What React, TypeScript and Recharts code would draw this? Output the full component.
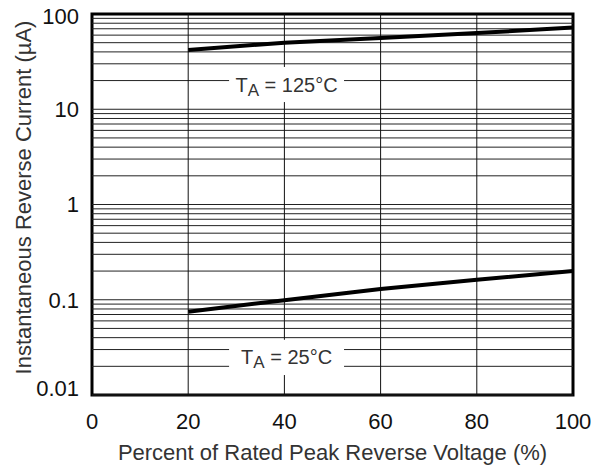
import React from "react";
import {
  ComposedChart,
  Line,
  XAxis,
  YAxis,
  ReferenceLine,
  ReferenceArea,
  Label,
} from "recharts";

// percent of rated peak reverse voltage
const voltagePct = [20, 40, 60, 80, 100];
// instantaneous reverse current (uA)
const current125C = [42, 50, 56, 63, 72];
const current25C = [0.075, 0.099, 0.13, 0.162, 0.2];

const xTicks = [0, 20, 40, 60, 80, 100];
const yTicks = [0.01, 0.1, 1, 10, 100];
const decades = [0.01, 0.1, 1, 10];
const minorSteps = [1, 2, 3, 4, 5, 6, 7, 8, 9];
const xGrid = [20, 40, 60, 80];

// white label boxes that cut through the grid
const boxes = [
  { temp: 125, x1: 28.5, x2: 52.4, y1: 11.9, y2: 27.8 },
  { temp: 25, x1: 28.5, x2: 52.4, y1: 0.0162, y2: 0.038 },
];

const data125 = voltagePct.map((v, i) => ({ x: v, y: current125C[i] }));
const data25 = voltagePct.map((v, i) => ({ x: v, y: current25C[i] }));

const hGrid: number[] = [];
decades.forEach((d) => minorSteps.forEach((m) => hGrid.push(+(d * m).toPrecision(3))));

// split grid lines so they stop at the label boxes
const hSegments: { x1: number; x2: number; y: number }[] = [];
hGrid.forEach((y) => {
  const box = boxes.find((b) => y > b.y1 && y < b.y2);
  if (box) {
    hSegments.push({ x1: 0, x2: box.x1, y });
    hSegments.push({ x1: box.x2, x2: 100, y });
  } else {
    hSegments.push({ x1: 0, x2: 100, y });
  }
});
const vSegments: { x: number; y1: number; y2: number }[] = [];
xGrid.forEach((x) => {
  const hits = boxes.filter((b) => x > b.x1 && x < b.x2).sort((a, b) => a.y1 - b.y1);
  let start = 0.01;
  hits.forEach((b) => {
    vSegments.push({ x, y1: start, y2: b.y1 });
    start = b.y2;
  });
  vSegments.push({ x, y1: start, y2: 100 });
});

const font = "'Liberation Sans', Arial, sans-serif";

const YTick = (props: any) => {
  const { x, y, payload } = props;
  // the bottom label sits a little above the axis corner
  const shift = payload.value === 0.01 ? -7 : payload.value === 100 ? 2 : 0;
  return (
    <text x={x} y={y + shift} dy="0.36em" textAnchor="end" fontFamily={font} fontSize={22} fill="#111">
      {String(payload.value)}
    </text>
  );
};

const XTick = (props: any) => {
  const { x, y, payload } = props;
  return (
    <text x={x} y={y} dy="0.72em" textAnchor="middle" fontFamily={font} fontSize={22} fill="#111">
      {String(payload.value)}
    </text>
  );
};

const YTitle = (props: any) => {
  const { viewBox } = props;
  const cx = 23;
  const cy = viewBox.y + viewBox.height / 2 - 7;
  return (
    <text
      x={cx}
      y={cy}
      transform={`rotate(-90 ${cx} ${cy})`}
      textAnchor="middle"
      dy="0.36em"
      fontFamily={font}
      fontSize={22}
      fill="#333"
    >
      Instantaneous Reverse Current (µA)
    </text>
  );
};

const XTitle = (props: any) => {
  const { viewBox } = props;
  const cx = viewBox.x + viewBox.width / 2;
  return (
    <text x={cx} y={460} textAnchor="middle" fontFamily={font} fontSize={22} fill="#333">
      Percent of Rated Peak Reverse Voltage (%)
    </text>
  );
};

const TempLabel = (props: any) => {
  const { viewBox, temp } = props;
  const cx = viewBox.x + viewBox.width / 2;
  const cy = viewBox.y + viewBox.height / 2 + 7;
  return (
    <text x={cx} y={cy} textAnchor="middle" fontFamily={font} fontSize={20} fill="#333">
      T<tspan fontSize={17} dy={4}>A</tspan>
      <tspan dy={-4}>{` = ${temp}°C`}</tspan>
    </text>
  );
};

export default function App() {
  return (
    <div
      style={{
        position: "absolute",
        top: 0,
        left: 0,
        width: 599,
        height: 468,
        overflow: "hidden",
        background: "#fff",
      }}
    >
      <ComposedChart
        width={599}
        height={468}
        margin={{ top: 14, right: 26, bottom: 0, left: 0 }}
      >
        <XAxis
          type="number"
          dataKey="x"
          domain={[0, 100]}
          ticks={xTicks}
          axisLine={false}
          tickLine={false}
          tickMargin={12}
          height={73}
          tick={<XTick />}
          allowDataOverflow
        >
          <Label content={<XTitle />} />
        </XAxis>
        <YAxis
          type="number"
          scale="log"
          domain={[0.01, 100]}
          ticks={yTicks}
          allowDataOverflow
          axisLine={false}
          tickLine={false}
          tickMargin={7}
          width={92}
          tick={<YTick />}
        >
          <Label content={<YTitle />} />
        </YAxis>

        {hSegments.map((s, i) => (
          <ReferenceLine
            key={`h${i}`}
            segment={[{ x: s.x1, y: s.y }, { x: s.x2, y: s.y }]}
            stroke="#222"
            strokeWidth={1}
          />
        ))}
        {vSegments.map((s, i) => (
          <ReferenceLine
            key={`v${i}`}
            segment={[{ x: s.x, y: s.y1 }, { x: s.x, y: s.y2 }]}
            stroke="#111"
            strokeWidth={1}
          />
        ))}

        {boxes.map((b) => (
          <ReferenceArea
            key={`box${b.temp}`}
            x1={b.x1}
            x2={b.x2}
            y1={b.y1}
            y2={b.y2}
            fill="none"
            stroke="none"
            label={<TempLabel temp={b.temp} />}
          />
        ))}

        <Line
          data={data125}
          dataKey="y"
          type="linear"
          stroke="#000"
          strokeWidth={4}
          dot={false}
          isAnimationActive={false}
        />
        <Line
          data={data25}
          dataKey="y"
          type="linear"
          stroke="#000"
          strokeWidth={4}
          dot={false}
          isAnimationActive={false}
        />

        <ReferenceArea
          x1={0}
          x2={100}
          y1={0.01}
          y2={100}
          fill="none"
          stroke="#000"
          strokeWidth={3}
        />
      </ComposedChart>
    </div>
  );
}
